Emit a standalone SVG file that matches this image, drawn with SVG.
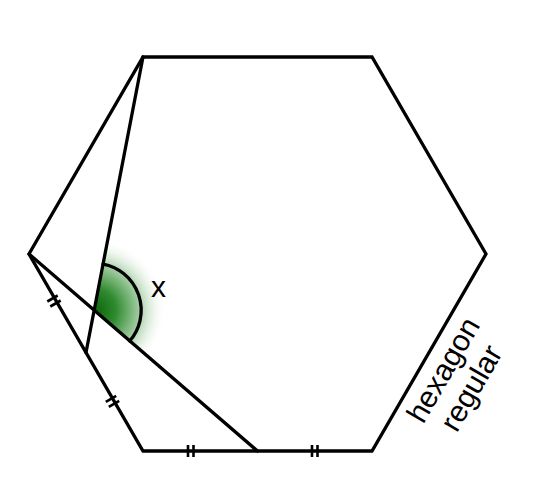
<svg xmlns="http://www.w3.org/2000/svg" width="536" height="488" viewBox="0 0 536 488">
<style>
.ln{fill:none;stroke:#000;stroke-width:3.3;stroke-linecap:round;stroke-linejoin:miter}
.tk{fill:none;stroke:#000;stroke-width:2.6}
.lbl{font-family:"Liberation Sans",Arial,sans-serif;fill:#000}
</style>
<defs>
<radialGradient id="g" gradientUnits="userSpaceOnUse" cx="94.2" cy="310.2" r="72">
<stop offset="0" stop-color="#0a650a"/>
<stop offset="0.3" stop-color="#2f8a2f"/>
<stop offset="0.62" stop-color="#9fcb9f"/>
<stop offset="1" stop-color="#ffffff" stop-opacity="0"/>
</radialGradient>
</defs>
<rect width="536" height="488" fill="#fff"/>
<g id="angle">
<path d="M94.2,310.2 L107.9,239.5 A72,72 0 0 1 148.7,357.2 Z" fill="url(#g)"/>
<path class="ln" d="M103.1,264.1 A47,47 0 0 1 129.8,340.9"/>
</g>
<g id="hexagon">
<polygon class="ln" points="143,57 372,57 486,254 372,451 143,451 29,254"/>
</g>
<g id="connectors">
<line class="ln" x1="143" y1="57" x2="86" y2="352.5"/>
<line class="ln" x1="29" y1="254" x2="257.5" y2="451"/>
</g>
<g id="ticks">
<line class="tk" x1="47.3" y1="301.5" x2="57.7" y2="295.5"/>
<line class="tk" x1="50.3" y1="306.5" x2="60.7" y2="300.5"/>
<line class="tk" x1="105.8" y1="401.8" x2="116.2" y2="395.8"/>
<line class="tk" x1="108.8" y1="406.8" x2="119.2" y2="400.8"/>
<line class="tk" x1="188" y1="445" x2="188" y2="457"/>
<line class="tk" x1="193.5" y1="445" x2="193.5" y2="457"/>
<line class="tk" x1="312" y1="445" x2="312" y2="457"/>
<line class="tk" x1="317.5" y1="445" x2="317.5" y2="457"/>
</g>
<g id="labels">
<text class="lbl" x="151" y="297" font-size="30">x</text>
<text class="lbl" font-size="30" text-anchor="middle" transform="translate(452,375) rotate(-60)">hexagon</text>
<text class="lbl" font-size="30" text-anchor="middle" transform="translate(480,393) rotate(-60)">regular</text>
</g>
</svg>
